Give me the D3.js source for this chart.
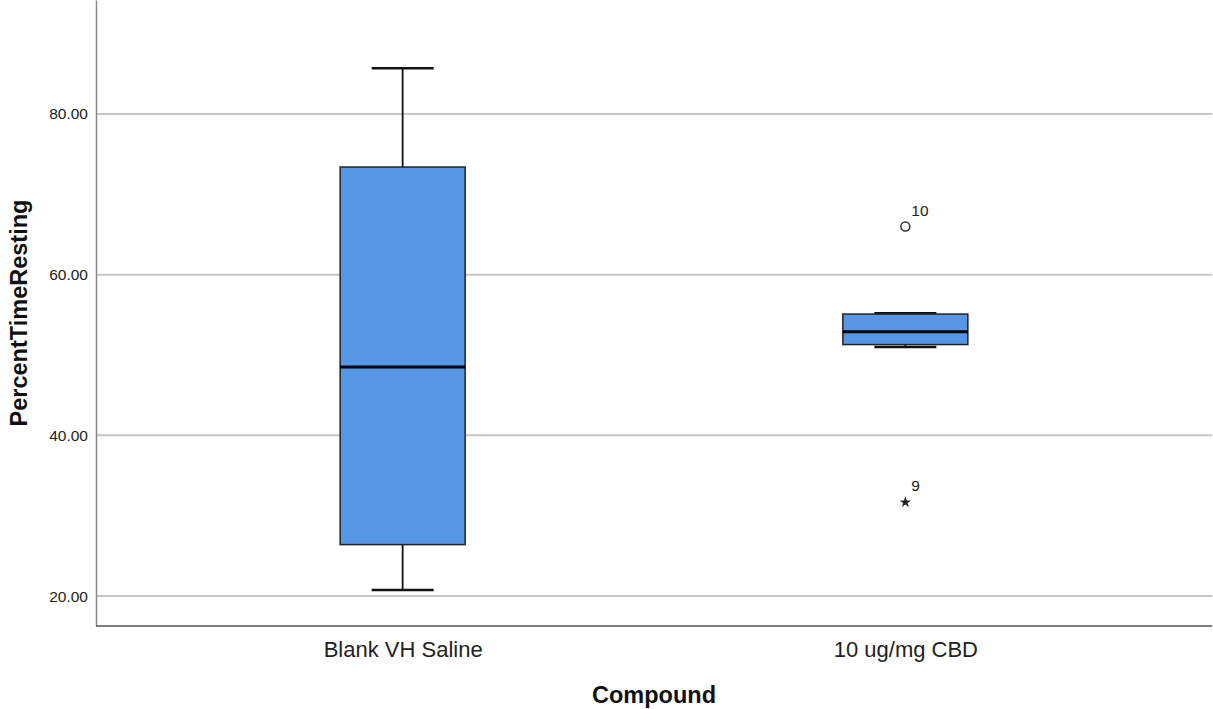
<!DOCTYPE html>
<html>
<head>
<meta charset="utf-8">
<script src="https://cdn.jsdelivr.net/npm/d3@7"></script>
<style>
  body { margin: 0; background: #fff; }
  text { font-family: "Liberation Sans", Arial, sans-serif; }
</style>
</head>
<body>
<svg id="chart" width="1213" height="709"></svg>
<script>
// data
const categories = ["Blank VH Saline", "10 ug/mg CBD"];
const whiskerLow = [20.75, 51.0];
const q1 = [26.4, 51.3];
const median = [48.5, 52.9];
const q3 = [73.4, 55.1];
const whiskerHigh = [85.7, 55.2];
// outliers: [categoryIndex, value, caseLabel, kind]
const outliers = [
	[1, 66.0, "10", "circle"],
	[1, 31.8, "9", "star"]
];
const yTicks = [20, 40, 60, 80];

const plotLeft = 96, plotRight = 1212, plotTop = 0, plotBottom = 626;

const svg = d3.select("#chart");

const xScale = d3.scalePoint().domain(categories).range([plotLeft, plotRight]).padding(0.61);
const yScale = d3.scaleLinear().domain([16.27, 94.19]).range([plotBottom, plotTop]);

// gridlines
svg.append("g")
	.selectAll("line")
	.data(yTicks)
	.enter()
	.append("line")
	.attr("x1", plotLeft)
	.attr("x2", plotRight)
	.attr("y1", d => yScale(d))
	.attr("y2", d => yScale(d))
	.attr("stroke", "#c6c6c6")
	.attr("stroke-width", 2);

// y axis
const yAxis = d3.axisLeft(yScale).tickValues(yTicks).tickSize(0).tickPadding(8).tickFormat(d3.format(".2f"));
const yG = svg.append("g")
	.attr("transform", `translate(${plotLeft}, 0)`)
	.call(yAxis);
yG.select(".domain").attr("stroke", "#888").attr("stroke-width", 1.5);
yG.selectAll("text").attr("font-size", 15.5).attr("fill", "#222")
	.style("font-family", "Liberation Sans, Arial, sans-serif");

// x axis
const xAxis = d3.axisBottom(xScale).tickSize(0).tickPadding(15);
const xG = svg.append("g")
	.attr("transform", `translate(0, ${plotBottom})`)
	.call(xAxis);
xG.select(".domain").attr("d", `M${plotLeft},0H${plotRight}`).attr("stroke", "#555").attr("stroke-width", 1.5);
xG.selectAll("text").attr("font-size", 22).attr("fill", "#222")
	.style("font-family", "Liberation Sans, Arial, sans-serif");

// boxes
const boxW = 125, capW = 62;
const boxes = svg.append("g")
	.selectAll("g")
	.data(categories)
	.enter()
	.append("g");

// whiskers
boxes.append("line")
	.attr("x1", d => xScale(d)).attr("x2", d => xScale(d))
	.attr("y1", (d, i) => yScale(whiskerHigh[i]))
	.attr("y2", (d, i) => yScale(q3[i]))
	.attr("stroke", "#111").attr("stroke-width", 1.8);
boxes.append("line")
	.attr("x1", d => xScale(d)).attr("x2", d => xScale(d))
	.attr("y1", (d, i) => yScale(whiskerLow[i]))
	.attr("y2", (d, i) => yScale(q1[i]))
	.attr("stroke", "#111").attr("stroke-width", 1.8);
// caps
boxes.append("line")
	.attr("x1", d => xScale(d) - capW / 2).attr("x2", d => xScale(d) + capW / 2)
	.attr("y1", (d, i) => yScale(whiskerHigh[i]))
	.attr("y2", (d, i) => yScale(whiskerHigh[i]))
	.attr("stroke", "#111").attr("stroke-width", 2.5);
boxes.append("line")
	.attr("x1", d => xScale(d) - capW / 2).attr("x2", d => xScale(d) + capW / 2)
	.attr("y1", (d, i) => yScale(whiskerLow[i]))
	.attr("y2", (d, i) => yScale(whiskerLow[i]))
	.attr("stroke", "#111").attr("stroke-width", 2.5);

// box rect
boxes.append("rect")
	.attr("x", d => xScale(d) - boxW / 2)
	.attr("width", boxW)
	.attr("y", (d, i) => yScale(q3[i]))
	.attr("height", (d, i) => yScale(q1[i]) - yScale(q3[i]))
	.attr("fill", "#5596e5")
	.attr("stroke", "#222")
	.attr("stroke-width", 1.5);

// median
boxes.append("line")
	.attr("x1", d => xScale(d) - boxW / 2).attr("x2", d => xScale(d) + boxW / 2)
	.attr("y1", (d, i) => yScale(median[i]))
	.attr("y2", (d, i) => yScale(median[i]))
	.attr("stroke", "#000").attr("stroke-width", 3);

// outliers
const star = d3.symbol().type(d3.symbolStar).size(40);
outliers.forEach(o => {
	const cx = xScale(categories[o[0]]);
	const cy = yScale(o[1]);
	if (o[3] === "circle") {
		svg.append("circle")
			.attr("cx", cx).attr("cy", cy).attr("r", 4.5)
			.attr("fill", "none").attr("stroke", "#333").attr("stroke-width", 1.5);
	} else {
		svg.append("path")
			.attr("d", star())
			.attr("transform", `translate(${cx}, ${cy + 1})`)
			.attr("fill", "#222");
	}
	svg.append("text")
		.attr("x", cx + 6)
		.attr("y", cy - 10)
		.attr("font-size", 15.5)
		.attr("fill", "#222")
		.text(o[2]);
});

// axis titles
svg.append("text")
	.attr("x", (plotLeft + plotRight) / 2)
	.attr("y", 703)
	.attr("text-anchor", "middle")
	.attr("font-size", 23.5)
	.attr("font-weight", "bold")
	.attr("fill", "#111")
	.text("Compound");

svg.append("text")
	.attr("transform", `translate(27, ${(plotTop + plotBottom) / 2}) rotate(-90)`)
	.attr("text-anchor", "middle")
	.attr("font-size", 23.5)
	.attr("font-weight", "bold")
	.attr("fill", "#111")
	.text("PercentTimeResting");
</script>
</body>
</html>
